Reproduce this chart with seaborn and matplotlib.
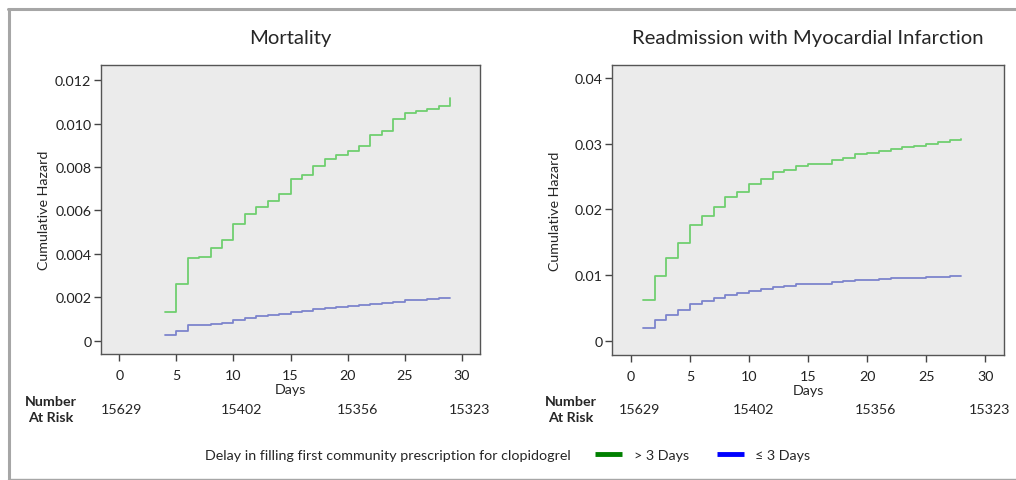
import matplotlib
matplotlib.use("Agg")
import matplotlib.pyplot as plt
import matplotlib.ticker as mticker
from matplotlib.lines import Line2D
import pandas as pd
import seaborn as sns

sns.set_style("white")
plt.rcParams["font.family"] = ["Lato", "DejaVu Sans"]

W, H = 1016, 481

# Mortality (cumulative hazard, x1e-3)
mort_days = [4, 5, 6, 7, 8, 9, 10, 11, 12, 13, 14, 15, 16, 17, 18, 19, 20, 21, 22, 23, 24, 25, 26, 27, 28, 29]
mort_late = [1.34, 2.61, 3.79, 3.88, 4.27, 4.66, 5.36, 5.85, 6.14, 6.43, 6.75, 7.46, 7.64, 8.06, 8.36,
             8.55, 8.76, 8.96, 9.47, 9.68, 10.19, 10.50, 10.59, 10.68, 10.82, 11.17]
mort_early = [0.25, 0.46, 0.71, 0.72, 0.78, 0.84, 0.97, 1.06, 1.12, 1.17, 1.23, 1.32, 1.37, 1.44, 1.50,
              1.55, 1.58, 1.63, 1.69, 1.73, 1.80, 1.87, 1.90, 1.93, 1.95, 1.98]

# Readmission with MI (cumulative hazard, x1e-3)
mi_days = [1, 2, 3, 4, 5, 6, 7, 8, 9, 10, 11, 12, 13, 14, 15, 16, 17, 18, 19, 20, 21, 22, 23, 24, 25, 26, 27, 28]
mi_late = [6.25, 9.91, 12.55, 14.84, 17.64, 19.01, 20.38, 21.91, 22.62, 23.89, 24.70, 25.62, 26.02, 26.68,
           26.84, 26.94, 27.55, 27.90, 28.41, 28.56, 28.92, 29.22, 29.43, 29.58, 29.89, 30.19, 30.60, 30.70]
mi_early = [1.98, 3.10, 3.96, 4.73, 5.59, 6.10, 6.56, 7.01, 7.22, 7.62, 7.93, 8.23, 8.39, 8.59, 8.64, 8.69,
            8.89, 9.05, 9.25, 9.30, 9.40, 9.50, 9.55, 9.61, 9.71, 9.76, 9.81, 9.86]

at_risk = ["15629", "15402", "15356", "15323"]
group_labels = ["> 3 Days", "\u2264 3 Days"]
line_colors = ["#6fcf6f", "#7d84cc"]
key_colors = ["#008000", "#0000ff"]

FS = 10.3

fig = plt.figure(figsize=(W / 100, H / 100), dpi=100)


def px_axes(x0, y0, x1, y1):
    return fig.add_axes([x0 / W, 1 - y1 / H, (x1 - x0) / W, (y1 - y0) / H])


def style_axes(ax, yticks, fmt, ylim, ylab_x):
    ax.set_facecolor("#ebebeb")
    for sp in ax.spines.values():
        sp.set_color("#555555")
        sp.set_linewidth(1.0)
    ax.set_xlim(-1.6, 31.6)
    ax.set_ylim(*ylim)
    ax.set_xticks([0, 5, 10, 15, 20, 25, 30])
    ax.set_yticks(yticks)
    ax.yaxis.set_major_formatter(mticker.FuncFormatter(lambda v, p: "0" if abs(v) < 1e-12 else fmt.format(v)))
    ax.tick_params(axis="both", direction="out", length=5, width=1, color="#444444",
                   labelsize=FS, labelcolor="#222222", pad=2, left=True, bottom=True)
    ax.tick_params(axis="x", pad=6)
    ax.grid(False)
    ax.set_xlabel("Days", fontsize=FS, labelpad=1)
    ax.set_ylabel("Cumulative Hazard", fontsize=FS)
    ax.yaxis.set_label_coords(ylab_x, 0.5)


def draw(ax, days, late, early):
    df = pd.DataFrame({
        "day": days + days,
        "hazard": [v / 1000 for v in late] + [v / 1000 for v in early],
        "group": [group_labels[0]] * len(days) + [group_labels[1]] * len(days),
    })
    sns.lineplot(data=df, x="day", y="hazard", hue="group", palette=line_colors,
                 drawstyle="steps-post", linewidth=1.3, legend=False, ax=ax)


ax1 = px_axes(101, 66, 480, 355)
draw(ax1, mort_days, mort_late, mort_early)
style_axes(ax1, [0, 0.002, 0.004, 0.006, 0.008, 0.010, 0.012], "{:.3f}", (-0.00061, 0.0127), -0.135)
ax1.set_title("Mortality", fontsize=14.6, pad=16)

ax2 = px_axes(612, 66, 1004, 356)
draw(ax2, mi_days, mi_late, mi_early)
style_axes(ax2, [0, 0.01, 0.02, 0.03, 0.04], "{:.2f}", (-0.0022, 0.042), -0.13)
ax2.set_title("Readmission with Myocardial Infarction", fontsize=14.6, pad=16)

# number at risk rows
for x_lab, xs in [(51, [121, 241, 357, 470]), (571, [640, 753, 875, 989])]:
    fig.text(x_lab / W, 1 - 410 / H, "Number\nAt Risk", ha="center", va="center",
             fontsize=FS, fontweight="bold", linespacing=1.35)
    for x, n in zip(xs, at_risk):
        fig.text(x / W, 1 - 410 / H, n, ha="center", va="center", fontsize=FS)

# legend
fig.text(571 / W, 1 - 456 / H, "Delay in filling first community prescription for clopidogrel",
         ha="right", va="center", fontsize=FS)
handles = [Line2D([], [], color=c, linewidth=3.5, solid_capstyle="butt") for c in key_colors]
fig.legend(handles, group_labels, loc="center left", bbox_to_anchor=(595 / W, 1 - 456 / H),
           ncol=2, frameon=False, fontsize=FS, handlelength=1.9, handletextpad=0.8,
           columnspacing=1.95, borderpad=0, borderaxespad=0)

# outer frame
frame_col = "#a6a6a6"
fig.add_artist(Line2D([8 / W, 1], [1 - 10 / H, 1 - 10 / H], color=frame_col, linewidth=2.2))
fig.add_artist(Line2D([8.5 / W, 8.5 / W], [1 - 10 / H, 1 - 479 / H], color=frame_col, linewidth=2.2))
fig.add_artist(Line2D([8 / W, 1], [1 - 479.5 / H, 1 - 479.5 / H], color=frame_col, linewidth=1.0))

fig.savefig("out.png", dpi=100, facecolor="white")
